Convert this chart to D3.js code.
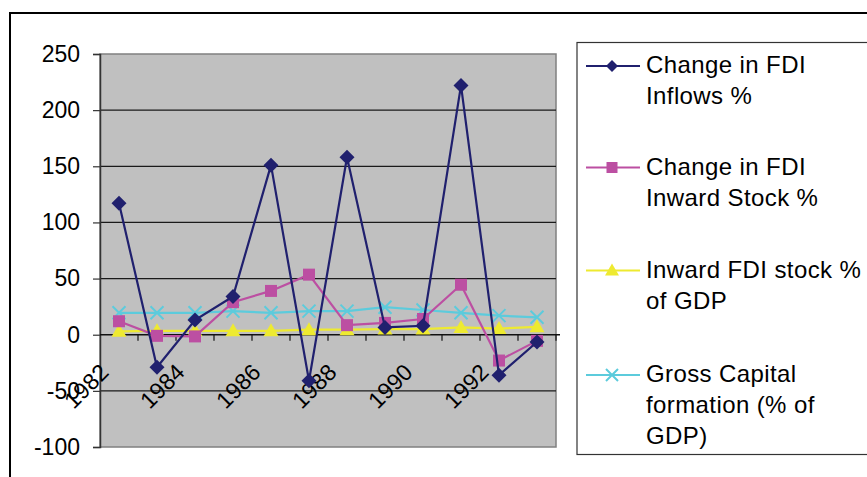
<!DOCTYPE html>
<html>
<head>
<meta charset="utf-8">
<script src="https://cdnjs.cloudflare.com/ajax/libs/d3/7.8.5/d3.min.js"></script>
<style>
  html, body { margin: 0; padding: 0; background: #fff; }
  svg { display: block; font-family: "Liberation Sans", Arial, sans-serif; }
</style>
</head>
<body>
<svg id="chart" width="867" height="477"></svg>
<script>
// chart values
var years = [1982, 1983, 1984, 1985, 1986, 1987, 1988, 1989, 1990, 1991, 1992, 1993];
var fdiInflows = [117, -29, 13, 34, 151, -41, 158, 6.5, 8, 222, -36, -6.5];
var fdiInwardStock = [12, -1, -1.5, 29, 39, 53.5, 8.5, 10.5, 14, 44.5, -23, -5.5];
var inwardStockGdp = [3, 3.5, 3.5, 3.5, 3.5, 4.5, 4.5, 5, 5, 6.5, 5.5, 7];
var grossCapital = [19.5, 19.5, 19.5, 21, 19.5, 21, 21, 24.5, 22, 19.5, 17, 15.5];
var yTicks = [-100, -50, 0, 50, 100, 150, 200, 250];
var labelYears = [1982, 1984, 1986, 1988, 1990, 1992];

var seriesNames = [
  ['Change in FDI', 'Inflows %'],
  ['Change in FDI', 'Inward Stock %'],
  ['Inward FDI stock %', 'of GDP'],
  ['Gross Capital', 'formation (% of', 'GDP)']
];
var seriesValues = [fdiInflows, fdiInwardStock, inwardStockGdp, grossCapital];
var seriesColors = ['#20206e', '#bc4fa2', '#eeea30', '#5ccbdc'];
var seriesMarkers = ['diamond', 'square', 'triangle', 'cross'];

var svg = d3.select('#chart');

// outer chart frame
svg.append('rect')
    .attr('x', 10).attr('y', 13)
    .attr('width', 880).attr('height', 500)
    .attr('fill', 'none')
    .attr('stroke', '#000')
    .attr('stroke-width', 2);

var plot = {left: 100, right: 556, top: 54, bottom: 447};

var x = d3.scaleBand().domain(years).range([plot.left, plot.right]);
var y = d3.scaleLinear().domain([-100, 250]).range([plot.bottom, plot.top]);

// plot area
svg.append('rect')
    .attr('x', plot.left).attr('y', plot.top)
    .attr('width', plot.right - plot.left)
    .attr('height', plot.bottom - plot.top)
    .attr('fill', '#c0c0c0')
    .attr('stroke', '#808080')
    .attr('stroke-width', 1.5);

// gridlines
svg.append('g').selectAll('line')
    .data(yTicks.filter(function(d) { return d !== 0 && d !== 250 && d !== -100; }))
    .enter().append('line')
    .attr('x1', plot.left).attr('x2', plot.right)
    .attr('y1', function(d) { return y(d); })
    .attr('y2', function(d) { return y(d); })
    .attr('stroke', '#1a1a1a')
    .attr('stroke-width', 1.3);

// y axis, plain hyphen for negatives like the source
var yAxis = d3.axisLeft(y)
    .tickValues(yTicks)
    .tickFormat(function(d) { return String(d); })
    .tickSize(7)
    .tickPadding(13);
var yg = svg.append('g')
    .attr('transform', 'translate(' + plot.left + ',0)')
    .call(yAxis);
yg.select('.domain').attr('stroke', '#333').attr('stroke-width', 1.5);
yg.selectAll('.tick line').attr('stroke', '#333').attr('stroke-width', 1.2);
yg.selectAll('.tick text')
    .attr('font-size', 23)
    .attr('font-family', '"Liberation Sans", Arial, sans-serif')
    .attr('fill', '#000');

// x axis at zero with ticks between categories
var xg = svg.append('g').attr('transform', 'translate(0,' + y(0) + ')');
xg.append('line')
    .attr('x1', plot.left).attr('x2', plot.right + 4)
    .attr('stroke', '#111').attr('stroke-width', 1.5);
xg.selectAll('line.tk')
    .data(years.slice(1))
    .enter().append('line')
    .attr('class', 'tk')
    .attr('x1', function(d) { return x(d); })
    .attr('x2', function(d) { return x(d); })
    .attr('y1', 0).attr('y2', 6)
    .attr('stroke', '#111').attr('stroke-width', 1.2);
xg.append('line')
    .attr('x1', plot.right).attr('x2', plot.right)
    .attr('y1', 0).attr('y2', 6)
    .attr('stroke', '#111').attr('stroke-width', 1.2);

xg.selectAll('text')
    .data(labelYears)
    .enter().append('text')
    .attr('transform', function(d) {
      return 'translate(' + (x(d) + x.bandwidth() / 2 - 9) + ',39) rotate(-45)';
    })
    .attr('text-anchor', 'end')
    .attr('font-size', 23)
    .attr('fill', '#000')
    .text(function(d) { return d; });

// marker shapes
function drawMarker(sel, kind, color, size) {
  if (kind === 'diamond') {
    sel.append('path')
        .attr('d', 'M0,' + (-size) + 'L' + size + ',0L0,' + size + 'L' + (-size) + ',0Z')
        .attr('fill', color);
  } else if (kind === 'square') {
    sel.append('rect')
        .attr('x', -size).attr('y', -size)
        .attr('width', 2 * size).attr('height', 2 * size)
        .attr('fill', color);
  } else if (kind === 'triangle') {
    sel.append('path')
        .attr('d', 'M0,' + (-size - 1) + 'L' + (size + 1) + ',' + (size - 1) + 'L' + (-size - 1) + ',' + (size - 1) + 'Z')
        .attr('fill', color);
  } else {
    sel.append('path')
        .attr('d', 'M' + (-size) + ',' + (-size) + 'L' + size + ',' + size +
            'M' + (-size) + ',' + size + 'L' + size + ',' + (-size))
        .attr('stroke', color)
        .attr('stroke-width', 2)
        .attr('fill', 'none');
  }
}

var line = d3.line()
    .x(function(d, i) { return x(years[i]) + x.bandwidth() / 2; })
    .y(function(d) { return y(d); });

// draw series in reverse so first series sits on top
var order = [3, 2, 1, 0];
var sizes = [7.5, 6, 6.5, 6.5];
order.forEach(function(s) {
  var g = svg.append('g');
  g.append('path')
      .attr('d', line(seriesValues[s]))
      .attr('fill', 'none')
      .attr('stroke', seriesColors[s])
      .attr('stroke-width', 2.2);
  g.selectAll('g.mk')
      .data(seriesValues[s])
      .enter().append('g')
      .attr('class', 'mk')
      .attr('transform', function(d, i) {
        return 'translate(' + (x(years[i]) + x.bandwidth() / 2) + ',' + y(d) + ')';
      })
      .each(function() {
        drawMarker(d3.select(this), seriesMarkers[s], seriesColors[s], sizes[s]);
      });
});

// legend
var legend = svg.append('g');
legend.append('rect')
    .attr('x', 577).attr('y', 42.5)
    .attr('width', 320).attr('height', 412)
    .attr('fill', '#fff')
    .attr('stroke', '#333')
    .attr('stroke-width', 1.2);

var legendY = [66, 167.5, 270.5, 375];
var legendSizes = [6, 5.5, 6, 6];
seriesNames.forEach(function(lines, s) {
  var g = legend.append('g').attr('transform', 'translate(0,' + legendY[s] + ')');
  g.append('line')
      .attr('x1', 586).attr('x2', 640)
      .attr('stroke', seriesColors[s])
      .attr('stroke-width', 1.8);
  drawMarker(g.append('g').attr('transform', 'translate(612,0)'),
      seriesMarkers[s], seriesColors[s], legendSizes[s]);
  g.selectAll('text')
      .data(lines)
      .enter().append('text')
      .attr('x', 646)
      .attr('y', function(d, i) { return 7 + i * 31; })
      .attr('font-size', 24)
      .attr('letter-spacing', 0.4)
      .attr('fill', '#000')
      .text(function(d) { return d; });
});
</script>
</body>
</html>
